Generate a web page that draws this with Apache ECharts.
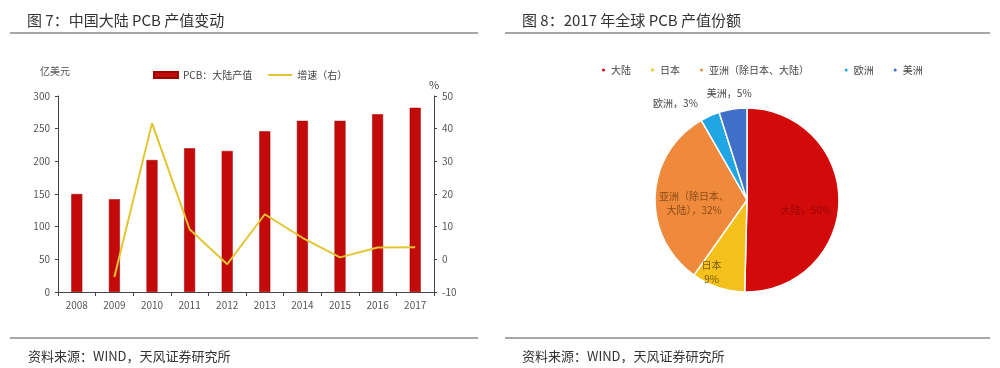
<!DOCTYPE html>
<html>
<head>
<meta charset="utf-8">
<script src="https://cdn.jsdelivr.net/npm/echarts@6/dist/echarts.min.js"></script>
<style>
html,body{margin:0;padding:0;background:#fff;}
#c{width:1000px;height:368px;}
</style>
</head>
<body>
<div id="c"></div>
<script>
// ---- data ----
var years = ['2008','2009','2010','2011','2012','2013','2014','2015','2016','2017'];
var outputValue = [150, 142, 202, 220, 216, 246, 262, 262, 272, 282];      // 亿美元
var growthRate  = [null, -5.4, 41.7, 9.2, -1.5, 13.8, 6.6, 0.6, 3.6, 3.7]; // %
var leftTicks = {min: 0, max: 300, interval: 50};
var rightTicks = {min: -10, max: 50, interval: 10};
var regions = ['大陆', '日本', '亚洲（除日本、大陆）', '欧洲', '美洲'];
var shares  = [50.4, 9.4, 31.9, 3.4, 4.9];

var font = '"Noto Sans CJK SC", "Noto Sans", sans-serif';
var chart = echarts.init(document.getElementById('c'), null, {renderer: 'canvas'});

var pieColors = ['#D20A0A', '#F3C01C', '#EF8A3C', '#22A6E3', '#3F6FC6'];
var pieLabelOffsets = [[10, 10], [-20, 26], [-4, 6], [6, -20], [24, -14]];

var option = {
  backgroundColor: '#fff',
  textStyle: {fontFamily: font},
  title: [
    {text: '图 7：中国大陆 PCB 产值变动', left: 22, top: 8,
     textStyle: {fontSize: 15, fontWeight: 'normal', color: '#333', fontFamily: font}},
    {text: '图 8：2017 年全球 PCB 产值份额', left: 517, top: 8,
     textStyle: {fontSize: 15, fontWeight: 'normal', color: '#333', fontFamily: font}},
    {text: '资料来源：WIND，天风证券研究所', left: 23, top: 345,
     textStyle: {fontSize: 13, fontWeight: 'normal', color: '#333', fontFamily: font}},
    {text: '资料来源：WIND，天风证券研究所', left: 517, top: 345,
     textStyle: {fontSize: 13, fontWeight: 'normal', color: '#333', fontFamily: font}}
  ],
  graphic: [
    {type: 'line', shape: {x1: 10, y1: 33, x2: 478, y2: 33}, style: {stroke: '#8a8a8a', lineWidth: 1.5}},
    {type: 'line', shape: {x1: 505, y1: 33, x2: 990, y2: 33}, style: {stroke: '#8a8a8a', lineWidth: 1.5}},
    {type: 'line', shape: {x1: 10, y1: 338, x2: 478, y2: 338}, style: {stroke: '#8a8a8a', lineWidth: 1.5}},
    {type: 'line', shape: {x1: 505, y1: 338, x2: 990, y2: 338}, style: {stroke: '#8a8a8a', lineWidth: 1.5}}
  ],
  legend: [
    {data: [{name: 'PCB：大陆产值', icon: 'rect'},
            {name: '增速（右）', itemStyle: {opacity: 0}}],
     left: 148, top: 65, itemWidth: 24, itemHeight: 6, itemGap: 15,
     textStyle: {fontSize: 10, color: '#444', fontFamily: font}},
    {data: regions, left: 595, top: 60, icon: 'circle', itemWidth: 5, itemHeight: 5, itemGap: 18,
     formatter: function (n) { return n === regions[2] ? n + '       ' : n; },
     textStyle: {fontSize: 10, color: '#444', fontFamily: font}}
  ],
  grid: {left: 58, right: 566, top: 96, bottom: 76, containLabel: false},
  xAxis: {
    type: 'category', data: years,
    axisLine: {lineStyle: {color: '#444', width: 1}},
    axisTick: {show: true, length: 4, lineStyle: {color: '#444'}},
    axisLabel: {fontSize: 10, color: '#555', margin: 8, fontFamily: font}
  },
  yAxis: [
    {type: 'value', min: leftTicks.min, max: leftTicks.max, interval: leftTicks.interval,
     name: '亿美元', nameLocation: 'end', nameGap: 20,
     nameTextStyle: {fontSize: 10, color: '#555', align: 'center', padding: [0, 0, 0, -6]},
     axisLine: {show: true, lineStyle: {color: '#444'}},
     axisTick: {show: true, length: 3, lineStyle: {color: '#444'}},
     axisLabel: {fontSize: 10, color: '#555', margin: 8, fontFamily: font},
     splitLine: {show: false}},
    {type: 'value', min: rightTicks.min, max: rightTicks.max, interval: rightTicks.interval,
     position: 'right', name: '%', nameLocation: 'end', nameGap: 6,
     nameTextStyle: {fontSize: 11, color: '#444', align: 'center'},
     axisLine: {show: true, lineStyle: {color: '#444'}},
     axisTick: {show: true, length: 3, lineStyle: {color: '#444'}},
     axisLabel: {fontSize: 10, color: '#555', margin: 8, fontFamily: font},
     splitLine: {show: false}}
  ],
  series: [
    {name: 'PCB：大陆产值', type: 'bar', data: outputValue, barWidth: 11,
     itemStyle: {color: '#C20A0A', borderColor: '#9E0000', borderWidth: 0.5}},
    {name: '增速（右）', type: 'line', yAxisIndex: 1, data: growthRate,
     showSymbol: false, symbol: 'none', smooth: false, connectNulls: false,
     lineStyle: {color: '#E3C531', width: 2}, itemStyle: {color: '#E3C531'}},
    {name: '2017份额', type: 'pie', center: [747, 200], radius: 92,
     startAngle: 90, clockwise: true,
     data: regions.map(function (n, i) { return {name: n, value: shares[i]}; }),
     color: pieColors,
     itemStyle: {borderColor: '#fff', borderWidth: 1.5},
     label: {
       fontSize: 10, fontFamily: font, lineHeight: 14,
       formatter: function (p) {
         var pct = Math.round(p.value) + '%';
         if (p.dataIndex === 1) return p.name + '\n' + pct;
         if (p.dataIndex === 2) return '亚洲（除日本、\n大陆），' + pct;
         return p.name + '，' + pct;
       }
     },
     labelLine: {show: false, length: 2, length2: 0},
     labelLayout: function (p) {
       var o = pieLabelOffsets[p.dataIndex];
       return {dx: o[0], dy: o[1]};
     }
    }
  ]
};

// per-slice label placement
option.series[2].data[0].label = {position: 'inside', color: '#9A0606'};
option.series[2].data[1].label = {position: 'inside', color: '#7a5a00'};
option.series[2].data[2].label = {position: 'inside', color: '#8a4a14', align: 'center'};
option.series[2].data[3].label = {position: 'outside', color: '#444'};
option.series[2].data[4].label = {position: 'outside', color: '#444'};

chart.setOption(option);
</script>
</body>
</html>
